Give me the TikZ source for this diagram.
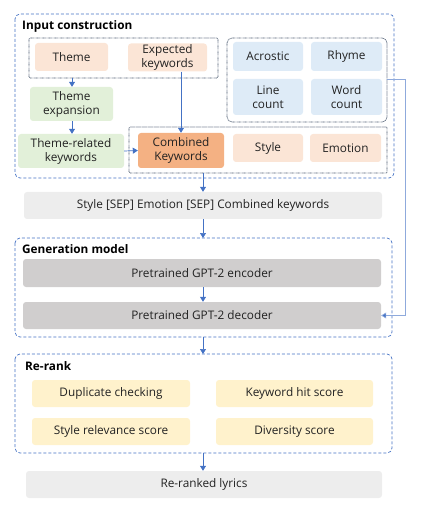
\documentclass[tikz,border=0pt]{standalone}
\usepackage{fontspec}
\setmainfont{Open Sans}
\usetikzlibrary{arrows.meta}
\definecolor{peach}{HTML}{FBE5D6}
\definecolor{lgreen}{HTML}{E2F0D9}
\definecolor{lblue}{HTML}{DEEBF7}
\definecolor{orng}{HTML}{F4B183}
\definecolor{lgray}{HTML}{EDEDED}
\definecolor{dgray}{HTML}{D0CECE}
\definecolor{lyel}{HTML}{FFF2CC}
\definecolor{arblue}{HTML}{4472C4}
\definecolor{lnblue}{HTML}{8FAADC}
\definecolor{dotc}{HTML}{44546A}
\definecolor{txt}{HTML}{222222}
\tikzset{
  bx/.style={rounded corners=3pt, inner sep=1pt, align=center, text=txt,
    font=\fontsize{11.8}{14}\selectfont},
  grp/.style={draw=arblue, dashed, dash pattern=on 3pt off 2pt, rounded corners=5pt, line width=0.7pt},
  dotgrp/.style={draw=dotc, dash pattern=on 0.6pt off 0.6pt, line width=0.7pt},
  arr/.style={draw=arblue, line width=0.7pt, -{Triangle[length=5pt,width=6pt]}},
  ttl/.style={anchor=west, font=\bfseries\fontsize{11.8}{14}\selectfont, inner sep=0pt, text=black},
}
\begin{document}
\begin{tikzpicture}[x=1pt,y=-1pt]
\useasboundingbox (0,0) rectangle (423,510);
% containers
\draw[grp] (15,14) rectangle (394,178);
\node[ttl] (tin) at (22,26) {Input construction};
\coordinate (dA1) at (29,38); \coordinate (dA2) at (218,78);
\draw[dotgrp, rounded corners=1pt] (dA1) rectangle (dA2);
\coordinate (dB1) at (129,127); \coordinate (dB2) at (387,173);
\draw[dotgrp, rounded corners=1pt] (dB1) rectangle (dB2);
\coordinate (dC1) at (227,38); \coordinate (dC2) at (387,122);
\draw[dotgrp, rounded corners=5pt] (dC1) rectangle (dC2);

% input nodes
\node[bx, fill=peach, minimum width=73pt, minimum height=28pt] (theme) at (71.5,57) {Theme};
\node[bx, fill=peach, minimum width=79pt, minimum height=28pt] (expk) at (167.5,57.5) {Expected\\keywords};
\node[bx, fill=lgreen, minimum width=83pt, minimum height=34pt] (texp) at (71.5,104) {Theme\\expansion};
\node[bx, fill=lgreen, minimum width=106pt, minimum height=34pt] (trk) at (71,151) {Theme-related\\keywords};
\node[bx, fill=orng, minimum width=86pt, minimum height=35pt] (comb) at (181,150.5) {Combined\\Keywords};
\node[bx, fill=peach, minimum width=70pt, minimum height=28pt] (style) at (268,148) {Style};
\node[bx, fill=peach, minimum width=71pt, minimum height=28pt] (emot) at (345.5,148) {Emotion};
\node[bx, fill=lblue, minimum width=70pt, minimum height=29pt] (acro) at (268,56.5) {Acrostic};
\node[bx, fill=lblue, minimum width=71pt, minimum height=29pt] (rhyme) at (346.5,56.5) {Rhyme};
\node[bx, fill=lblue, minimum width=70pt, minimum height=36pt] (linec) at (268,97) {Line\\count};
\node[bx, fill=lblue, minimum width=71pt, minimum height=36pt] (wordc) at (346.5,97) {Word\\count};

% sequence
\node[bx, fill=lgray, minimum width=358pt, minimum height=27pt] (sep) at (203,205.5) {Style [SEP] Emotion [SEP] Combined keywords};

% generation model
\draw[grp] (15,238) rectangle (392,337);
\coordinate (gTop) at (203,238); \coordinate (gBot) at (203,337);
\node[ttl] (tgen) at (22,249) {Generation model};
\node[bx, fill=dgray, minimum width=358pt, minimum height=28pt] (enc) at (202,273) {Pretrained GPT-2 encoder};
\node[bx, fill=dgray, minimum width=358pt, minimum height=27pt] (dec) at (202,315.5) {Pretrained GPT-2 decoder};

% re-rank
\draw[grp] (15,354) rectangle (392,453);
\coordinate (rTop) at (203,354); \coordinate (rBot) at (203,453);
\node[ttl] (trr) at (25,366) {Re-rank};
\node[bx, fill=lyel, minimum width=158pt, minimum height=27pt] (dup) at (111,393.5) {Duplicate checking};
\node[bx, fill=lyel, minimum width=157pt, minimum height=27pt] (kwh) at (294.5,393.5) {Keyword hit score};
\node[bx, fill=lyel, minimum width=158pt, minimum height=27pt] (srel) at (111,431.5) {Style relevance score};
\node[bx, fill=lyel, minimum width=157pt, minimum height=27pt] (divs) at (294.5,431.5) {Diversity score};
\node[bx, fill=lgray, minimum width=356pt, minimum height=27pt] (lyr) at (204,484.5) {Re-ranked lyrics};

% connectors
\coordinate (aS) at (72,78);
\draw[arr] (aS) -- (texp.north -| aS);
\draw[arr] (texp.south -| aS) -- (trk.north -| aS);
\draw[arr, line width=0.6pt] (expk.south -| comb.north) -- (comb.north);
\draw[arr] (trk.east) -- (comb.west);
\coordinate (bS) at (203,173);
\draw[arr] (bS) -- (sep.north -| bS);
\draw[arr] (sep.south -| gTop) -- (gTop);
\draw[arr] (enc.south -| gTop) -- (dec.north -| gTop);
\draw[arr] (gBot) -- (rTop);
\draw[arr] (rBot) -- (lyr.north -| rBot);
\coordinate (cR) at (387,79); \coordinate (cC) at (405,79);
\draw[arr, draw=lnblue, line width=0.7pt, -{Triangle[length=5pt,width=6pt,fill=arblue]}] (cR) -- (cC) |- (dec.east);
\end{tikzpicture}
\end{document}
